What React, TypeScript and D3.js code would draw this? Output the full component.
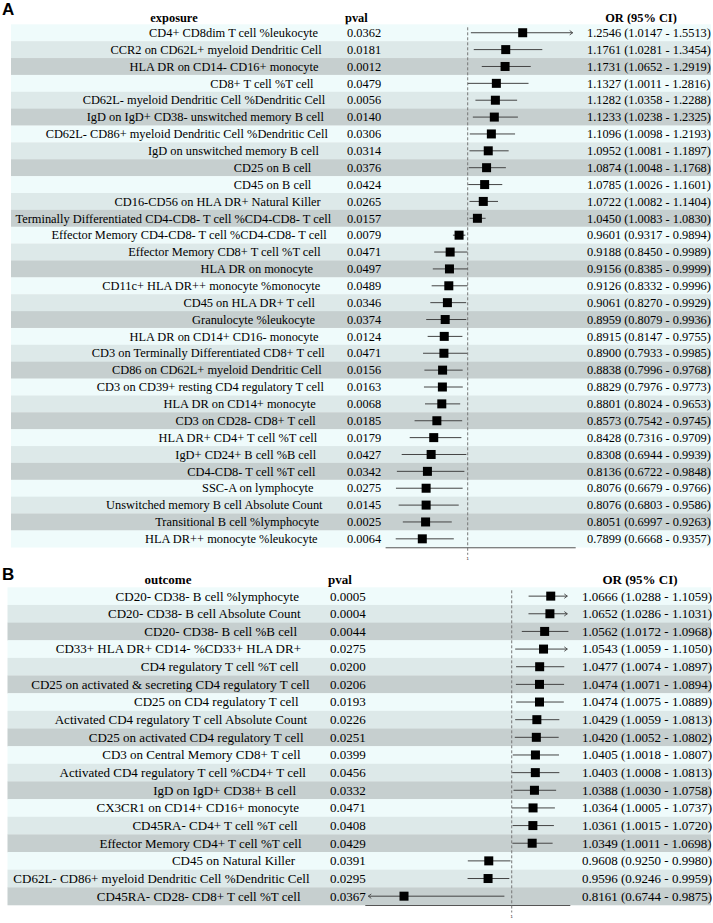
import React from "react";
import * as d3 from "d3";

// panel A: exposure traits
const expLabels = [
  "CD4+ CD8dim T cell %leukocyte",
  "CCR2 on CD62L+ myeloid Dendritic Cell",
  "HLA DR on CD14- CD16+ monocyte",
  "CD8+ T cell %T cell",
  "CD62L- myeloid Dendritic Cell %Dendritic Cell",
  "IgD on IgD+ CD38- unswitched memory B cell",
  "CD62L- CD86+ myeloid Dendritic Cell %Dendritic Cell",
  "IgD on unswitched memory B cell",
  "CD25 on B cell",
  "CD45 on B cell",
  "CD16-CD56 on HLA DR+ Natural Killer",
  "Terminally Differentiated CD4-CD8- T cell %CD4-CD8- T cell",
  "Effector Memory CD4-CD8- T cell %CD4-CD8- T cell",
  "Effector Memory CD8+ T cell %T cell",
  "HLA DR on monocyte",
  "CD11c+ HLA DR++ monocyte %monocyte",
  "CD45 on HLA DR+ T cell",
  "Granulocyte %leukocyte",
  "HLA DR on CD14+ CD16- monocyte",
  "CD3 on Terminally Differentiated CD8+ T cell",
  "CD86 on CD62L+ myeloid Dendritic Cell",
  "CD3 on CD39+ resting CD4 regulatory T cell",
  "HLA DR on CD14+ monocyte",
  "CD3 on CD28- CD8+ T cell",
  "HLA DR+ CD4+ T cell %T cell",
  "IgD+ CD24+ B cell %B cell",
  "CD4-CD8- T cell %T cell",
  "SSC-A on lymphocyte",
  "Unswitched memory B cell Absolute Count",
  "Transitional B cell %lymphocyte",
  "HLA DR++ monocyte %leukocyte",
];
const expPval = [
  "0.0362", "0.0181", "0.0012", "0.0479", "0.0056", "0.0140", "0.0306", "0.0314",
  "0.0376", "0.0424", "0.0265", "0.0157", "0.0079", "0.0471", "0.0497", "0.0489",
  "0.0346", "0.0374", "0.0124", "0.0471", "0.0156", "0.0163", "0.0068", "0.0185",
  "0.0179", "0.0427", "0.0342", "0.0275", "0.0145", "0.0025", "0.0064",
];
const expOR = [
  1.2546, 1.1761, 1.1731, 1.1327, 1.1282, 1.1233, 1.1096, 1.0952, 1.0874, 1.0785,
  1.0722, 1.045, 0.9601, 0.9188, 0.9156, 0.9126, 0.9061, 0.8959, 0.8915, 0.89,
  0.8838, 0.8829, 0.8801, 0.8573, 0.8428, 0.8308, 0.8136, 0.8076, 0.8076, 0.8051,
  0.7899,
];
const expLow = [
  1.0147, 1.0281, 1.0652, 1.0011, 1.0358, 1.0238, 1.0098, 1.0081, 1.0048, 1.0026,
  1.0082, 1.0083, 0.9317, 0.845, 0.8385, 0.8332, 0.827, 0.8079, 0.8147, 0.7933,
  0.7996, 0.7976, 0.8024, 0.7542, 0.7316, 0.6944, 0.6722, 0.6679, 0.6803, 0.6997,
  0.6668,
];
const expHigh = [
  1.5513, 1.3454, 1.2919, 1.2816, 1.2288, 1.2325, 1.2193, 1.1897, 1.1768, 1.1601,
  1.1404, 1.083, 0.9894, 0.9989, 0.9999, 0.9996, 0.9929, 0.9936, 0.9755, 0.9985,
  0.9768, 0.9773, 0.9653, 0.9745, 0.9709, 0.9939, 0.9848, 0.9766, 0.9586, 0.9263,
  0.9357,
];

// panel B: outcome traits
const outLabels = [
  "CD20- CD38- B cell %lymphocyte",
  "CD20- CD38- B cell Absolute Count",
  "CD20- CD38- B cell %B cell",
  "CD33+ HLA DR+ CD14- %CD33+ HLA DR+",
  "CD4 regulatory T cell %T cell",
  "CD25 on activated & secreting CD4 regulatory T cell",
  "CD25 on CD4 regulatory T cell",
  "Activated CD4 regulatory T cell Absolute Count",
  "CD25 on activated CD4 regulatory T cell",
  "CD3 on Central Memory CD8+ T cell",
  "Activated CD4 regulatory T cell %CD4+ T cell",
  "IgD on IgD+ CD38+ B cell",
  "CX3CR1 on CD14+ CD16+ monocyte",
  "CD45RA- CD4+ T cell %T cell",
  "Effector Memory CD4+ T cell %T cell",
  "CD45 on Natural Killer",
  "CD62L- CD86+ myeloid Dendritic Cell %Dendritic Cell",
  "CD45RA- CD28- CD8+ T cell %T cell",
];
const outPval = [
  "0.0005", "0.0004", "0.0044", "0.0275", "0.0200", "0.0206", "0.0193", "0.0226",
  "0.0251", "0.0399", "0.0456", "0.0332", "0.0471", "0.0408", "0.0429", "0.0391",
  "0.0295", "0.0367",
];
const outOR = [
  1.0666, 1.0652, 1.0562, 1.0543, 1.0477, 1.0474, 1.0474, 1.0429, 1.042, 1.0405,
  1.0403, 1.0388, 1.0364, 1.0361, 1.0349, 0.9608, 0.9596, 0.8161,
];
const outLow = [
  1.0288, 1.0286, 1.0172, 1.0059, 1.0074, 1.0071, 1.0075, 1.0059, 1.0052, 1.0018,
  1.0008, 1.003, 1.0005, 1.0015, 1.0011, 0.925, 0.9246, 0.6744,
];
const outHigh = [
  1.1059, 1.1031, 1.0968, 1.105, 1.0897, 1.0894, 1.0889, 1.0813, 1.0802, 1.0807,
  1.0813, 1.0758, 1.0737, 1.072, 1.0698, 0.998, 0.9959, 0.9875,
];

const expXlim = [0.62, 1.5];
const outXlim = [0.75, 1.1];
const ticks = [1];

const rowFills = ["#effbfb", "#dde9e9", "#c6cfcf"];
const serif = "'Liberation Serif', 'Times New Roman', serif";

interface PanelProps {
  tag: string;
  header: string;
  labels: string[];
  pval: string[];
  or: number[];
  low: number[];
  high: number[];
  xlim: number[];
  top: number;
  tagY: number;
  rowH: number;
  fs: number;
  bgLeft: number;
  labelRight: number;
  labelSlope: number;
  headerX: number;
  pvalX: number;
  plotRange: number[];
  orX: number;
  orHeaderX: number;
}

function Panel(p: PanelProps) {
  const x = d3.scaleLinear().domain(p.xlim).range(p.plotRange);
  const n = p.labels.length;
  const y = d3.scaleLinear().domain([0, n]).range([p.top, p.top + n * p.rowH]);
  const axisY = y(n) + 0.5;
  const headerY = p.top - p.rowH * 0.42;
  const [x0, x1] = p.plotRange;
  const sq = 9;

  return (
    <g>
      <text x={2} y={p.tagY} fontFamily="Arial, 'Liberation Sans', sans-serif" fontWeight="bold" fontSize={17}>
        {p.tag}
      </text>
      <g fontFamily={serif} fontWeight="bold" fontSize={p.fs}>
        <text x={p.headerX} y={headerY + p.fs * 0.35} textAnchor="middle">{p.header}</text>
        <text x={p.pvalX - 2} y={headerY + p.fs * 0.35}>pval</text>
        <text x={p.orHeaderX} y={headerY + p.fs * 0.35} textAnchor="middle">OR (95% CI)</text>
      </g>
      {p.labels.map((lab, i) => (
        <rect key={"bg" + i} x={p.bgLeft} y={y(i)} width={711 - p.bgLeft} height={p.rowH + 0.3} fill={rowFills[i % 3]} />
      ))}
      <line x1={x(1)} x2={x(1)} y1={y(0) + 3} y2={axisY} stroke="#777" strokeWidth={1} strokeDasharray="3,2" />
      {p.labels.map((lab, i) => {
        const cy = y(i + 0.5);
        const base = cy + p.fs * 0.34;
        const lo = Math.max(p.low[i], p.xlim[0]);
        const hi = Math.min(p.high[i], p.xlim[1]);
        const leftArrow = p.low[i] < p.xlim[0];
        const rightArrow = p.high[i] > p.xlim[1];
        const lx = leftArrow ? x(lo) + 3 : x(lo);
        const rx = rightArrow ? x(hi) - 3 : x(hi);
        return (
          <g key={"r" + i}>
            <text x={p.labelRight + p.labelSlope * lab.length} y={base} textAnchor="end" fontFamily={serif} fontSize={p.fs}>{lab}</text>
            <text x={p.pvalX} y={base} fontFamily={serif} fontSize={p.fs}>{p.pval[i]}</text>
            <text x={p.orX} y={base} fontFamily={serif} fontSize={p.fs}>
              {`${p.or[i].toFixed(4)} (${p.low[i].toFixed(4)} - ${p.high[i].toFixed(4)})`}
            </text>
            <line x1={lx} x2={rx} y1={cy} y2={cy} stroke="#444" strokeWidth={1} />
            {rightArrow && (
              <path d={`M${rx - 3},${cy - 2.2} L${rx},${cy} L${rx - 3},${cy + 2.2}`} fill="none" stroke="#444" strokeWidth={0.9} />
            )}
            {leftArrow && (
              <path d={`M${lx + 3},${cy - 2.2} L${lx},${cy} L${lx + 3},${cy + 2.2}`} fill="none" stroke="#444" strokeWidth={0.9} />
            )}
            <rect x={x(p.or[i]) - sq / 2} y={cy - sq / 2} width={sq} height={sq} fill="#000" />
          </g>
        );
      })}
      <line x1={x0} x2={x1} y1={axisY} y2={axisY} stroke="#555" strokeWidth={1} />
      {ticks.map((t) => (
        <g key={"t" + t}>
          <line x1={x(t)} x2={x(t)} y1={axisY} y2={axisY + 7} stroke="#777" strokeWidth={1} strokeDasharray="3,2" />
          <text x={x(t)} y={axisY + 12} textAnchor="middle" fontFamily="Arial, sans-serif" fontSize={4}>{t}</text>
        </g>
      ))}
    </g>
  );
}

export default function App() {
  return (
    <svg width={713} height={923} style={{ display: "block", position: "absolute", left: 0, top: 0, background: "#fff" }}>
      <rect width={713} height={923} fill="#fff" />
      <Panel
        tag="A"
        header="exposure"
        labels={expLabels}
        pval={expPval}
        or={expOR}
        low={expLow}
        high={expHigh}
        xlim={expXlim}
        top={24.3}
        tagY={15}
        rowH={16.87}
        fs={12.4}
        bgLeft={11}
        labelRight={305}
        labelSlope={0.45}
        headerX={174}
        pvalX={347}
        plotRange={[385.6, 575.7]}
        orX={587}
        orHeaderX={641}
      />
      <Panel
        tag="B"
        header="outcome"
        labels={outLabels}
        pval={outPval}
        or={outOR}
        low={outLow}
        high={outHigh}
        xlim={outXlim}
        top={587.3}
        tagY={580}
        rowH={17.65}
        fs={13}
        bgLeft={7.5}
        labelRight={284}
        labelSlope={0.5}
        headerX={168}
        pvalX={330}
        plotRange={[365.3, 570.3]}
        orX={582}
        orHeaderX={640}
      />
    </svg>
  );
}
